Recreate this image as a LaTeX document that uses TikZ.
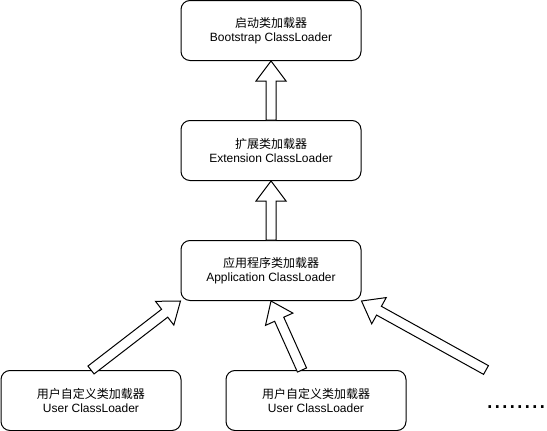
\documentclass[tikz,border=0pt]{standalone}
\usepackage{fontspec}
\setmainfont{Liberation Sans}
\newfontfamily\cjk{Noto Sans CJK SC}
\usetikzlibrary{calc}

\tikzset{
  loader/.style={draw, line width=1pt, rounded corners=9pt,
    minimum width=180pt, minimum height=60pt, align=center,
    font=\fontsize{12}{14.5}\selectfont, inner sep=0pt},
  hollow/.style={draw, line width=1pt, fill=white, line join=miter}
}

% Hollow block arrow: #1 tail, #2 tip, #3 name prefix
% shaft 10 wide, head 30 wide and 20 long
\newcommand\hollowarrow[3]{%
  \coordinate (#3-h) at ($(#2)!20pt!(#1)$);
  \draw[hollow]
    ($(#1)!5pt!90:(#2)$) -- ($(#3-h)!5pt!90:(#2)$) --
    ($(#3-h)!15pt!90:(#2)$) -- (#2) --
    ($(#3-h)!15pt!-90:(#2)$) -- ($(#3-h)!5pt!-90:(#2)$) --
    ($(#1)!5pt!-90:(#2)$) -- cycle;
}

\begin{document}
\begin{tikzpicture}[x=1pt, y=-1pt]
  \useasboundingbox (0,0) rectangle (547,431);

  % class loader hierarchy
  \node[loader] (boot) at (271,30.5) {{\cjk 启动类加载器}\\Bootstrap ClassLoader};
  \node[loader] (ext)  at (271,150.5) {{\cjk 扩展类加载器}\\Extension ClassLoader};
  \node[loader] (app)  at (271,270.5) {{\cjk 应用程序类加载器}\\Application ClassLoader};
  \node[loader] (u1)   at (91,400.5) {{\cjk 用户自定义类加载器}\\User ClassLoader};
  \node[loader] (u2)   at (316,400.5) {{\cjk 用户自定义类加载器}\\User ClassLoader};

  % more user loaders
  \node[anchor=base west, inner sep=0pt, font=\fontsize{27}{27}\selectfont]
    (more) at (486,408) {........};

  % free tails of the lower arrows
  \coordinate (t2) at (302,370);
  \coordinate (t3) at (486,370);

  % delegation arrows
  \hollowarrow{ext.north}{boot.south}{a1}
  \hollowarrow{app.north}{ext.south}{a2}
  \hollowarrow{u1.north}{app.south west}{a3}
  \hollowarrow{t2}{app.south}{a4}
  \hollowarrow{t3}{app.south east}{a5}
\end{tikzpicture}
\end{document}
